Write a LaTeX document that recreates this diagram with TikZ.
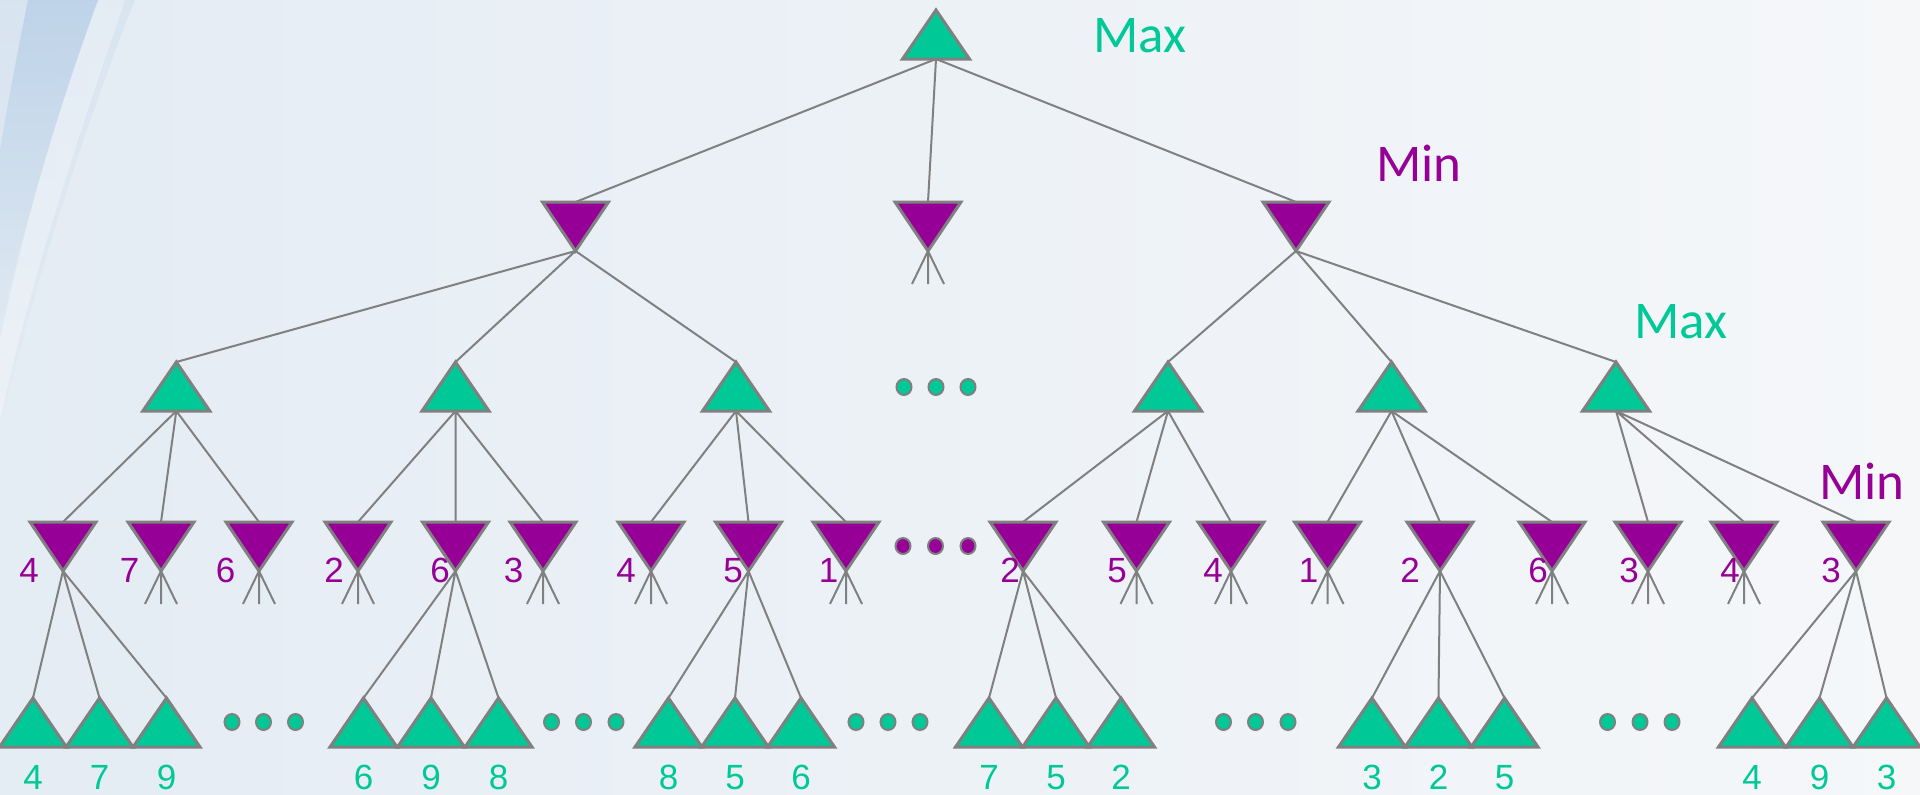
\documentclass[tikz,border=0pt]{standalone}
\usepackage{fontspec}
\setmainfont{Liberation Sans}
\newfontfamily\levelfont{Carlito}
\usetikzlibrary{fadings}
\definecolor{MaxClr}{RGB}{0,200,150}
\definecolor{MinClr}{RGB}{150,0,150}
\definecolor{LineClr}{RGB}{128,128,128}
\definecolor{BackLeft}{RGB}{228,236,244}
\definecolor{BackRight}{RGB}{245,247,249}
\definecolor{BandClr}{RGB}{180,205,230}

\tikzset{
  edge/.style={draw=LineClr,line width=2pt},
  tri/.style={draw=LineClr,line width=3pt,line join=miter},
  maxtri/.pic={
    \filldraw[tri,fill=MaxClr] (0,0) -- (33.5,49) -- (-33.5,49) -- cycle;
    \coordinate (-top) at (0,0);
    \coordinate (-bot) at (0,49);
  },
  mintri/.pic={
    \filldraw[tri,fill=MinClr] (-33,0) -- (33,0) -- (0,49) -- cycle;
    \coordinate (-top) at (0,0);
    \coordinate (-bot) at (0,49);
  },
  val/.style={font=\fontsize{35}{35}\selectfont,inner sep=0pt},
  maxval/.style={val,text=MaxClr},
  minval/.style={val,text=MinClr},
  level/.style={font=\levelfont\fontsize{53}{53}\selectfont,inner sep=0pt},
  dots/.style={fill=#1,draw=LineClr,line width=2pt},
}

\begin{document}
\begin{tikzpicture}[x=1pt,y=-1pt]
\useasboundingbox (0,0) rectangle (1920,795);
\shade[left color=BackLeft,right color=BackRight] (0,0) rectangle (1920,795);
\fill[BandClr,opacity=.25,path fading=south] (0,0) -- (135,0) .. controls (95,100) and (40,260) .. (0,430) -- cycle;
\fill[white,opacity=.3] (98,0) -- (125,0) .. controls (88,110) and (35,260) .. (0,420)
  -- (0,340) .. controls (30,200) and (65,90) .. (98,0) -- cycle;
\fill[BandClr,opacity=.7,path fading=south] (28,0) -- (98,0) .. controls (65,90) and (30,200) .. (0,330)
  -- (0,150) .. controls (10,90) and (20,40) .. (28,0) -- cycle;

\pic (R) at (936,10) {maxtri};

\pic (M1) at (575.5,202) {mintri};
\pic (M2) at (928,202) {mintri};
\pic (M3) at (1296,202) {mintri};

\pic (X1) at (176.3,362) {maxtri};
\pic (X2) at (455.5,362) {maxtri};
\pic (X3) at (736,362) {maxtri};
\pic (X4) at (1168,362) {maxtri};
\pic (X5) at (1391.5,362) {maxtri};
\pic (X6) at (1616,362) {maxtri};

\foreach \x [count=\i] in {63,161,259,358,455.5,543,651,748.5,846,
  1023,1136.5,1231,1327.5,1440,1552,1648,1744,1856}
  \pic (N\i) at (\x,522) {mintri};

\foreach \x [count=\i] in {33,99.5,166.5,363.5,431,498.5,668.5,735,801,
  989,1056,1121,1372,1438.5,1504.5,1752,1819.5,1886.5}
  \pic (L\i) at (\x,698) {maxtri};

\draw[edge] (R-bot) -- (M1-top) (R-bot) -- (M2-top) (R-bot) -- (M3-top);
\draw[edge] (M1-bot) -- (X1-top) (M1-bot) -- (X2-top) (M1-bot) -- (X3-top);
\draw[edge] (M3-bot) -- (X4-top) (M3-bot) -- (X5-top) (M3-bot) -- (X6-top);
\draw[edge] (X1-bot) -- (N1-top) (X1-bot) -- (N2-top) (X1-bot) -- (N3-top);
\draw[edge] (X2-bot) -- (N4-top) (X2-bot) -- (N5-top) (X2-bot) -- (N6-top);
\draw[edge] (X3-bot) -- (N7-top) (X3-bot) -- (N8-top) (X3-bot) -- (N9-top);
\draw[edge] (X4-bot) -- (N10-top) (X4-bot) -- (N11-top) (X4-bot) -- (N12-top);
\draw[edge] (X5-bot) -- (N13-top) (X5-bot) -- (N14-top) (X5-bot) -- (N15-top);
\draw[edge] (X6-bot) -- (N16-top) (X6-bot) -- (N17-top) (X6-bot) -- (N18-top);
\draw[edge] (N1-bot) -- (L1-top) (N1-bot) -- (L2-top) (N1-bot) -- (L3-top);
\draw[edge] (N5-bot) -- (L4-top) (N5-bot) -- (L5-top) (N5-bot) -- (L6-top);
\draw[edge] (N8-bot) -- (L7-top) (N8-bot) -- (L8-top) (N8-bot) -- (L9-top);
\draw[edge] (N10-bot) -- (L10-top) (N10-bot) -- (L11-top) (N10-bot) -- (L12-top);
\draw[edge] (N14-bot) -- (L13-top) (N14-bot) -- (L14-top) (N14-bot) -- (L15-top);
\draw[edge] (N18-bot) -- (L16-top) (N18-bot) -- (L17-top) (N18-bot) -- (L18-top);

\draw[edge] (M2-bot) -- ++(-16,33) (M2-bot) -- ++(0,33) (M2-bot) -- ++(16,33);
\foreach \i in {2,3,4,6,7,9,11,12,13,15,16,17}
  \draw[edge] (N\i-bot) -- ++(-16,33) (N\i-bot) -- ++(0,33) (N\i-bot) -- ++(16,33);

\foreach \x in {904,936,968} \path[dots=MaxClr] (\x,387) ellipse (7.5 and 8);
\foreach \x in {903,935.5,968} \path[dots=MinClr] (\x,546) ellipse (7.5 and 8);
\foreach \x in {232,263.5,295.5,551.5,583.5,616,856,888,920,1223.5,1255.5,1288,1607.5,1640,1672}
  \path[dots=MaxClr] (\x,722) ellipse (7.5 and 8);

\foreach \v/\x [count=\i] in {4/29,7/129.5,6/225.5,2/334,6/440,3/513.5,4/626,5/733,1/828.5,
  2/1010,5/1117,4/1213,1/1308.5,2/1410,6/1538,3/1629,4/1730,3/1831}
  \node[minval] (n\i) at (\x,570.5) {\v};

\foreach \v/\x [count=\i] in {4/33,7/99.5,9/166.5,6/363.5,9/431,8/498.5,8/668.5,5/735,6/801,
  7/989,5/1056,2/1121,3/1372,2/1438.5,5/1504.5,4/1752,9/1819.5,3/1886.5}
  \node[maxval] (l\i) at (\x,777.5) {\v};

\node[level,text=MaxClr] (maxA) at (1140,36) {Max};
\node[level,text=MinClr] (minA) at (1419,163) {Min};
\node[level,text=MaxClr] (maxB) at (1681,322) {Max};
\node[level,text=MinClr] (minB) at (1862,481) {Min};
\end{tikzpicture}
\end{document}
